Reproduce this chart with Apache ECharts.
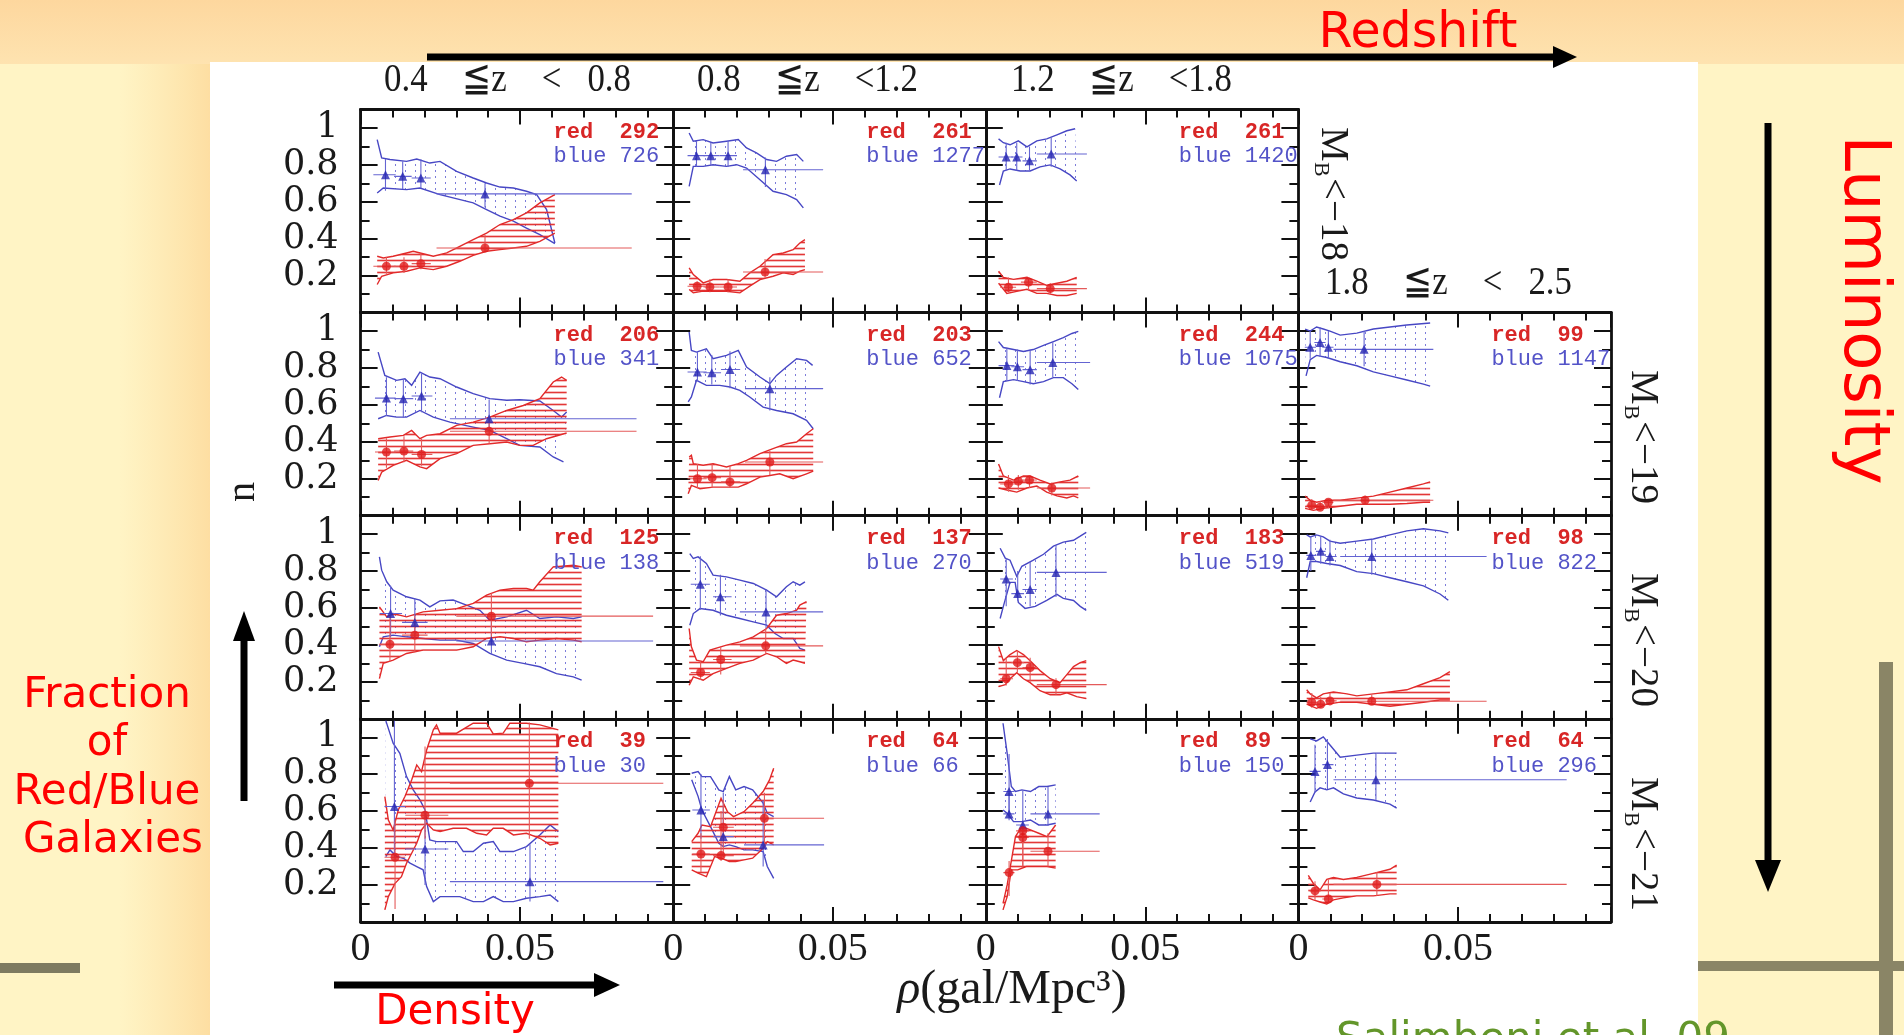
<!DOCTYPE html>
<html><head><meta charset="utf-8">
<script src="https://cdn.jsdelivr.net/npm/echarts@6/dist/echarts.min.js"></script>
<style>html,body{margin:0;padding:0;background:#fff4c5;overflow:hidden}#c{width:1904px;height:1035px}</style>
</head><body><div id="c"></div><script>
// ================= DATA =================
const columnTitles = ['0.4    \u2266z    <   0.8', '0.8    \u2266z    <1.2', '1.2    \u2266z    <1.8', '1.8    \u2266z    <   2.5'];
const rowMags = ['18', '19', '20', '21'];
const redCounts  = [[292, 261, 261, null], [206, 203, 244, 99], [125, 137, 183, 98], [39, 64, 89, 64]];
const blueCounts = [[726, 1277, 1420, null], [341, 652, 1075, 1147], [138, 270, 519, 822], [30, 66, 150, 296]];
const xTickLabels = ['0', '0.05'];
const yTickLabels = ['0.2', '0.4', '0.6', '0.8', '1'];
const xAxisTitle = '{i|\u03c1}(gal/Mpc\u00b3)';
const yAxisTitle = 'n';

// points: [x, y, xlo, xhi, ylo, yhi]
// ---- row 0 (M_B < -18) ----
const blueHi_00 = [[.0052,.937],[.0066,.838],[.0092,.829],[.0144,.819],[.0176,.832],[.0217,.810],[.0249,.819],[.0301,.765],[.0353,.729],[.0395,.702],[.0437,.680],[.0479,.675],[.0520,.657],[.0552,.639],[.0583,.558],[.0609,.377]];
const blueLo_00 = [[.0052,.648],[.0071,.675],[.0144,.666],[.0186,.675],[.0249,.639],[.0353,.594],[.0395,.558],[.0437,.522],[.0479,.495],[.0520,.458],[.0562,.422],[.0609,.374]];
const redHi_00 = [[.0052,.305],[.0071,.296],[.0102,.305],[.0144,.323],[.0165,.332],[.0196,.319],[.0228,.305],[.0270,.323],[.0311,.359],[.0353,.395],[.0395,.431],[.0437,.477],[.0479,.504],[.0520,.540],[.0562,.594],[.0609,.639]];
const redLo_00 = [[.0052,.152],[.0066,.197],[.0102,.215],[.0144,.224],[.0186,.242],[.0228,.233],[.0270,.251],[.0311,.278],[.0353,.310],[.0395,.332],[.0437,.341],[.0479,.350],[.0520,.359],[.0562,.386],[.0609,.431]];
const bluePts_00 = [[.0078,.747,.0040,.0110,.66,.83],[.0132,.738,.0105,.0160,.67,.82],[.0189,.729,.0160,.0220,.675,.83],[.0390,.643,.0238,.0850,.57,.70]];
const redPts_00 = [[.0081,.251,.0040,.0110,.21,.30],[.0136,.251,.0105,.0160,.215,.30],[.0189,.265,.0160,.0220,.235,.32],[.0390,.350,.0238,.0850,.33,.42]];

const blueHi_01 = [[.0050,.973],[.0063,.928],[.0094,.937],[.0125,.919],[.0167,.928],[.0204,.937],[.0230,.892],[.0261,.865],[.0293,.829],[.0324,.819],[.0355,.847],[.0387,.856],[.0408,.819]];
const blueLo_01 = [[.0050,.684],[.0063,.792],[.0094,.792],[.0125,.801],[.0167,.792],[.0199,.801],[.0230,.783],[.0272,.720],[.0313,.657],[.0355,.639],[.0387,.612],[.0408,.567]];
const redHi_01 = [[.0050,.242],[.0063,.206],[.0094,.161],[.0125,.179],[.0167,.179],[.0209,.170],[.0240,.215],[.0272,.251],[.0313,.314],[.0345,.323],[.0376,.341],[.0397,.377],[.0413,.395]];
const redLo_01 = [[.0050,.125],[.0063,.107],[.0094,.116],[.0125,.116],[.0167,.116],[.0209,.107],[.0240,.143],[.0272,.179],[.0313,.197],[.0345,.215],[.0376,.206],[.0397,.224],[.0413,.233]];
const bluePts_01 = [[.0073,.850,.0045,.0100,.79,.93],[.0118,.850,.0095,.0145,.80,.92],[.0172,.850,.0145,.0200,.79,.93],[.0289,.774,.0219,.0470,.68,.84]];
const redPts_01 = [[.0075,.143,.0045,.0100,.11,.17],[.0115,.139,.0095,.0145,.11,.18],[.0172,.139,.0145,.0200,.11,.18],[.0288,.220,.0219,.0470,.19,.29]];

const blueHi_02 = [[.0040,.941],[.0055,.920],[.0076,.909],[.0102,.930],[.0129,.898],[.0160,.930],[.0191,.941],[.0223,.963],[.0254,.985],[.0280,.996]];
const blueLo_02 = [[.0043,.691],[.0055,.767],[.0076,.778],[.0108,.767],[.0139,.767],[.0170,.789],[.0202,.800],[.0233,.778],[.0264,.746],[.0285,.713]];
const redHi_02 = [[.0040,.224],[.0055,.191],[.0087,.180],[.0129,.191],[.0160,.170],[.0191,.148],[.0223,.159],[.0254,.170],[.0285,.191]];
const redLo_02 = [[.0040,.159],[.0066,.104],[.0097,.115],[.0129,.126],[.0160,.104],[.0191,.104],[.0223,.093],[.0254,.093],[.0285,.104]];
const bluePts_02 = [[.0064,.843,.0040,.0085,.77,.92],[.0097,.843,.0080,.0115,.77,.92],[.0137,.822,.0115,.0160,.77,.90],[.0205,.859,.0160,.0317,.79,.95]];
const redPts_02 = [[.0071,.137,.0045,.0095,.11,.19],[.0134,.165,.0110,.0160,.12,.19],[.0202,.130,.0160,.0317,.10,.16]];

// ---- row 1 (M_B < -19) ----
const blueHi_10 = [[.0055,.886],[.0076,.760],[.0113,.733],[.0139,.742],[.0160,.706],[.0186,.778],[.0217,.751],[.0249,.742],[.0301,.697],[.0353,.661],[.0405,.634],[.0458,.625],[.0499,.628],[.0562,.621],[.0604,.570],[.0630,.534],[.0646,.561]];
const blueLo_10 = [[.0055,.525],[.0081,.543],[.0113,.534],[.0144,.534],[.0186,.570],[.0228,.534],[.0280,.507],[.0353,.480],[.0405,.462],[.0458,.417],[.0499,.381],[.0562,.372],[.0604,.318],[.0636,.291]];
const redHi_10 = [[.0055,.417],[.0092,.426],[.0134,.435],[.0160,.462],[.0186,.417],[.0207,.435],[.0249,.444],[.0301,.489],[.0353,.507],[.0405,.534],[.0458,.570],[.0510,.597],[.0562,.634],[.0604,.724],[.0630,.751],[.0646,.733]];
const redLo_10 = [[.0055,.191],[.0066,.236],[.0102,.273],[.0144,.300],[.0186,.264],[.0207,.255],[.0249,.309],[.0301,.336],[.0353,.381],[.0405,.390],[.0458,.399],[.0499,.381],[.0541,.381],[.0583,.417],[.0646,.448]];
const bluePts_10 = [[.0081,.637,.0045,.0110,.54,.75],[.0134,.634,.0105,.0165,.53,.74],[.0191,.648,.0160,.0225,.56,.77],[.0403,.525,.0280,.0865,.46,.63]];
const redPts_10 = [[.0081,.345,.0045,.0110,.26,.42],[.0136,.350,.0105,.0165,.29,.43],[.0191,.332,.0160,.0225,.27,.42],[.0403,.457,.0280,.0865,.39,.53]];

const blueHi_11 = [[.0050,.995],[.0057,.895],[.0073,.886],[.0104,.904],[.0125,.850],[.0167,.868],[.0204,.895],[.0230,.805],[.0272,.751],[.0303,.715],[.0324,.760],[.0355,.805],[.0387,.850],[.0418,.841],[.0437,.814]];
const blueLo_11 = [[.0047,.616],[.0057,.643],[.0073,.733],[.0104,.706],[.0146,.706],[.0178,.697],[.0209,.679],[.0240,.643],[.0282,.588],[.0324,.570],[.0376,.552],[.0418,.516],[.0439,.471]];
const redHi_11 = [[.0050,.318],[.0057,.327],[.0063,.282],[.0094,.273],[.0125,.282],[.0167,.264],[.0204,.282],[.0230,.300],[.0272,.336],[.0313,.363],[.0355,.390],[.0387,.399],[.0418,.444],[.0439,.471]];
const redLo_11 = [[.0047,.119],[.0057,.164],[.0084,.146],[.0125,.155],[.0167,.155],[.0204,.155],[.0230,.173],[.0272,.209],[.0303,.218],[.0334,.227],[.0376,.200],[.0418,.227],[.0439,.241]];
const bluePts_11 = [[.0076,.778,.0045,.0105,.73,.89],[.0121,.774,.0095,.0150,.71,.87],[.0178,.792,.0150,.0210,.69,.89],[.0303,.688,.0225,.0470,.57,.75]];
const redPts_11 = [[.0076,.200,.0045,.0105,.15,.28],[.0122,.206,.0095,.0150,.15,.28],[.0178,.183,.0150,.0210,.15,.27],[.0303,.291,.0225,.0470,.22,.35]];

const blueHi_12 = [[.0040,.943],[.0055,.911],[.0087,.900],[.0118,.889],[.0149,.900],[.0181,.922],[.0212,.943],[.0243,.965],[.0270,.987],[.0290,.998]];
const blueLo_12 = [[.0043,.639],[.0055,.726],[.0087,.737],[.0118,.726],[.0149,.715],[.0181,.726],[.0212,.748],[.0243,.748],[.0270,.715],[.0290,.683]];
const redHi_12 = [[.0040,.280],[.0055,.215],[.0087,.193],[.0118,.215],[.0139,.215],[.0170,.193],[.0202,.172],[.0233,.183],[.0264,.193],[.0290,.215]];
const redLo_12 = [[.0040,.150],[.0066,.139],[.0097,.128],[.0129,.150],[.0160,.161],[.0191,.128],[.0223,.107],[.0254,.096],[.0275,.107],[.0290,.096]];
const bluePts_12 = [[.0066,.813,.0040,.0090,.73,.91],[.0099,.807,.0080,.0120,.73,.90],[.0139,.791,.0115,.0160,.71,.90],[.0210,.830,.0160,.0327,.75,.94]];
const redPts_12 = [[.0071,.172,.0045,.0095,.13,.22],[.0102,.187,.0080,.0125,.14,.22],[.0137,.193,.0115,.0160,.15,.22],[.0207,.150,.0160,.0327,.11,.18]];

const blueHi_13 = [[.0021,1.011],[.0037,1.0],[.0057,1.022],[.0078,1.011],[.0099,1.0],[.0131,.978],[.0183,.989],[.0235,1.011],[.0287,1.022],[.0340,1.033],[.0413,1.044]];
const blueLo_13 = [[.0024,.757],[.0037,.845],[.0057,.868],[.0089,.857],[.0131,.834],[.0183,.812],[.0235,.779],[.0287,.757],[.0340,.735],[.0392,.713],[.0413,.702]];
const redHi_13 = [[.0021,.106],[.0037,.084],[.0057,.073],[.0089,.084],[.0131,.084],[.0183,.095],[.0235,.106],[.0287,.128],[.0340,.150],[.0392,.172],[.0413,.183]];
const redLo_13 = [[.0021,.040],[.0047,.029],[.0078,.040],[.0131,.051],[.0183,.062],[.0235,.062],[.0287,.062],[.0340,.066],[.0392,.073],[.0413,.073]];
const bluePts_13 = [[.0037,.912,.0020,.0055,.85,1.0],[.0068,.938,.0050,.0085,.86,1.02],[.0094,.912,.0075,.0110,.85,1.0],[.0206,.901,.0110,.0423,.81,1.0]];
const redPts_13 = [[.0042,.057,.0025,.0060,.03,.09],[.0068,.046,.0050,.0085,.03,.08],[.0094,.073,.0075,.0110,.04,.09],[.0209,.084,.0110,.0423,.06,.11]];

// ---- row 2 (M_B < -20) ----
const blueHi_20 = [[.0059,.877],[.0066,.805],[.0082,.742],[.0102,.697],[.0144,.661],[.0186,.643],[.0217,.606],[.0249,.639],[.0290,.643],[.0332,.616],[.0374,.588],[.0405,.534],[.0458,.552],[.0520,.588],[.0562,.543],[.0614,.552],[.0667,.543],[.0693,.552]];
const blueLo_20 = [[.0059,.390],[.0071,.444],[.0102,.453],[.0144,.444],[.0196,.435],[.0249,.426],[.0301,.426],[.0353,.408],[.0405,.354],[.0458,.318],[.0510,.300],[.0562,.282],[.0614,.245],[.0667,.227],[.0693,.209]];
const redHi_20 = [[.0059,.606],[.0082,.552],[.0102,.570],[.0144,.552],[.0196,.579],[.0249,.588],[.0301,.597],[.0353,.625],[.0395,.670],[.0437,.697],[.0479,.706],[.0520,.706],[.0541,.697],[.0562,.742],[.0604,.823],[.0667,.832],[.0693,.823]];
const redLo_20 = [[.0059,.218],[.0071,.300],[.0102,.318],[.0144,.354],[.0196,.372],[.0249,.372],[.0301,.372],[.0353,.390],[.0395,.435],[.0437,.444],[.0479,.435],[.0520,.417],[.0562,.426],[.0614,.435],[.0667,.426],[.0693,.417]];
const bluePts_20 = [[.0094,.570,.0060,.0130,.44,.72],[.0170,.522,.0130,.0210,.44,.65],[.0410,.421,.0300,.0917,.35,.55]];
const redPts_20 = [[.0092,.404,.0060,.0130,.31,.56],[.0170,.453,.0130,.0210,.36,.56],[.0410,.556,.0300,.0917,.44,.68]];

const blueHi_21 = [[.0052,.895],[.0063,.868],[.0078,.877],[.0104,.841],[.0125,.778],[.0167,.769],[.0209,.751],[.0251,.733],[.0293,.697],[.0324,.661],[.0355,.715],[.0376,.742],[.0397,.724],[.0413,.742]];
const blueLo_21 = [[.0052,.507],[.0063,.570],[.0084,.597],[.0125,.588],[.0167,.561],[.0209,.543],[.0251,.525],[.0293,.507],[.0303,.489],[.0319,.462],[.0345,.435],[.0376,.435],[.0397,.381],[.0413,.372]];
const redHi_21 = [[.0050,.489],[.0057,.390],[.0073,.318],[.0094,.309],[.0115,.372],[.0167,.399],[.0209,.417],[.0251,.444],[.0293,.489],[.0324,.561],[.0355,.570],[.0387,.588],[.0397,.616],[.0418,.634]];
const redLo_21 = [[.0050,.182],[.0063,.227],[.0094,.209],[.0125,.245],[.0167,.273],[.0209,.300],[.0251,.318],[.0293,.354],[.0324,.336],[.0355,.300],[.0376,.318],[.0397,.309],[.0413,.300]];
const bluePts_21 = [[.0085,.729,.0055,.0115,.59,.88],[.0148,.661,.0125,.0183,.56,.78],[.0291,.579,.0209,.0470,.49,.70]];
const redPts_21 = [[.0086,.251,.0055,.0115,.21,.31],[.0149,.321,.0125,.0183,.24,.39],[.0290,.395,.0209,.0470,.35,.49]];

const blueHi_22 = [[.0045,.924],[.0061,.870],[.0076,.859],[.0097,.772],[.0113,.826],[.0149,.859],[.0181,.891],[.0212,.935],[.0243,.957],[.0275,.967],[.0296,.989],[.0315,1.01]];
const blueLo_22 = [[.0045,.543],[.0055,.609],[.0076,.739],[.0092,.739],[.0102,.630],[.0123,.598],[.0155,.609],[.0191,.641],[.0223,.674],[.0243,.652],[.0275,.641],[.0296,.609],[.0315,.587]];
const redHi_22 = [[.0040,.391],[.0055,.315],[.0076,.348],[.0097,.370],[.0118,.348],[.0139,.315],[.0170,.261],[.0202,.217],[.0233,.196],[.0254,.239],[.0275,.283],[.0296,.304],[.0315,.315]];
const redLo_22 = [[.0040,.174],[.0061,.185],[.0076,.217],[.0097,.250],[.0118,.217],[.0139,.196],[.0170,.152],[.0202,.130],[.0233,.130],[.0254,.141],[.0285,.120],[.0315,.109]];
const bluePts_22 = [[.0064,.757,.0045,.0085,.61,.87],[.0100,.678,.0080,.0120,.64,.80],[.0139,.700,.0115,.0160,.61,.85],[.0220,.793,.0160,.0379,.66,.94]];
const redPts_22 = [[.0064,.217,.0045,.0085,.18,.33],[.0099,.304,.0080,.0120,.25,.37],[.0139,.278,.0115,.0160,.20,.33],[.0220,.185,.0160,.0379,.13,.22]];

const blueHi_23 = [[.0026,.996],[.0037,.985],[.0057,.996],[.0078,.985],[.0099,.962],[.0131,.951],[.0183,.962],[.0235,.974],[.0287,.996],[.0340,1.018],[.0392,1.029],[.0444,1.018],[.0470,1.007]];
const blueLo_23 = [[.0026,.764],[.0037,.852],[.0057,.852],[.0089,.841],[.0131,.830],[.0183,.797],[.0235,.786],[.0287,.764],[.0340,.742],[.0392,.720],[.0444,.676],[.0470,.642]];
const redHi_23 = [[.0026,.157],[.0037,.135],[.0057,.113],[.0078,.135],[.0110,.146],[.0152,.135],[.0183,.124],[.0235,.135],[.0287,.146],[.0340,.157],[.0392,.190],[.0444,.223],[.0475,.256]];
const redLo_23 = [[.0026,.079],[.0057,.057],[.0089,.079],[.0131,.090],[.0183,.090],[.0235,.079],[.0287,.068],[.0340,.079],[.0392,.090],[.0444,.102],[.0475,.102]];
const bluePts_23 = [[.0039,.885,.0025,.0055,.80,.99],[.0070,.907,.0055,.0085,.84,.99],[.0099,.879,.0085,.0120,.83,.97],[.0230,.879,.0131,.0590,.78,.97]];
const redPts_23 = [[.0042,.090,.0025,.0060,.06,.14],[.0070,.079,.0055,.0085,.06,.12],[.0099,.097,.0085,.0120,.08,.14],[.0230,.095,.0131,.0590,.08,.13]];

// ---- row 3 (M_B < -21) ----
const blueHi_30 = [[.0079,1.09],[.0102,.968],[.0123,.913],[.0144,.787],[.0165,.715],[.0186,.661],[.0202,.606],[.0217,.444],[.0238,.435],[.0301,.435],[.0322,.381],[.0353,.381],[.0385,.426],[.0416,.435],[.0437,.381],[.0479,.381],[.0520,.408],[.0562,.471],[.0594,.525],[.0620,.489]];
const blueLo_30 = [[.0079,.354],[.0092,.390],[.0113,.354],[.0134,.345],[.0155,.318],[.0176,.300],[.0196,.282],[.0207,.191],[.0228,.110],[.0249,.137],[.0311,.137],[.0353,.110],[.0385,.110],[.0416,.137],[.0447,.110],[.0479,.110],[.0520,.128],[.0562,.137],[.0594,.146],[.0620,.110]];
const redHi_30 = [[.0076,.679],[.0087,.552],[.0102,.498],[.0118,.606],[.0139,.679],[.0160,.769],[.0176,.850],[.0191,.814],[.0207,.931],[.0228,1.04],[.0238,1.067],[.0249,1.022],[.0301,1.022],[.0353,1.076],[.0395,1.076],[.0416,1.018],[.0447,1.022],[.0468,1.076],[.0520,1.076],[.0562,1.067],[.0620,1.040]];
const redLo_30 = [[.0076,.065],[.0087,.137],[.0108,.209],[.0128,.245],[.0144,.318],[.0160,.372],[.0176,.426],[.0191,.498],[.0207,.534],[.0228,.498],[.0249,.489],[.0290,.507],[.0332,.507],[.0364,.480],[.0395,.471],[.0416,.507],[.0447,.507],[.0479,.471],[.0520,.480],[.0562,.453],[.0594,.417],[.0620,.426]];
const bluePts_30 = [[.0106,.625,.0075,.0140,.35,1.09],[.0202,.395,.0140,.0275,.20,.60],[.0531,.218,.0280,.0949,.11,.42]];
const redPts_30 = [[.0108,.350,.0075,.0140,.07,.55],[.0202,.578,.0140,.0275,.45,.95],[.0529,.751,.0280,.0949,.45,1.08]];

const blueHi_31 = [[.0058,.805],[.0078,.814],[.0090,.787],[.0117,.787],[.0143,.715],[.0157,.706],[.0176,.787],[.0196,.715],[.0222,.733],[.0249,.715],[.0282,.643],[.0295,.588],[.0315,.570]];
const blueLo_31 = [[.0058,.770],[.0078,.680],[.0090,.606],[.0117,.516],[.0143,.426],[.0157,.408],[.0176,.417],[.0196,.408],[.0222,.390],[.0249,.390],[.0282,.381],[.0295,.300],[.0315,.236]];
const redHi_31 = [[.0058,.435],[.0078,.480],[.0090,.525],[.0117,.516],[.0150,.670],[.0170,.597],[.0189,.570],[.0222,.597],[.0249,.643],[.0282,.706],[.0302,.769],[.0315,.832]];
const redLo_31 = [[.0058,.282],[.0078,.264],[.0104,.245],[.0130,.354],[.0150,.345],[.0176,.327],[.0196,.327],[.0222,.336],[.0249,.345],[.0282,.399],[.0295,.435],[.0315,.417]];
const bluePts_31 = [[.0087,.606,.0060,.0115,.45,.80],[.0157,.462,.0125,.0190,.41,.70],[.0282,.417,.0222,.0473,.30,.66]];
const redPts_31 = [[.0087,.368,.0060,.0115,.27,.48],[.0150,.359,.0125,.0190,.33,.60],[.0157,.513,.0125,.0190,.35,.66],[.0286,.561,.0222,.0473,.40,.70]];

const blueHi_32 = [[.0054,1.076],[.0067,.913],[.0080,.733],[.0093,.706],[.0113,.715],[.0140,.706],[.0166,.733],[.0192,.733],[.0219,.742]];
const blueLo_32 = [[.0054,.606],[.0067,.588],[.0087,.543],[.0113,.543],[.0140,.552],[.0166,.525],[.0192,.525],[.0219,.534]];
const redHi_32 = [[.0054,.100],[.0067,.200],[.0080,.330],[.0093,.462],[.0113,.516],[.0140,.498],[.0166,.480],[.0192,.462],[.0219,.525]];
const redLo_32 = [[.0054,.065],[.0067,.137],[.0080,.282],[.0100,.282],[.0127,.300],[.0153,.300],[.0192,.300],[.0219,.291]];
const bluePts_32 = [[.0073,.706,.0055,.0090,.58,.91],[.0073,.585,.0055,.0090,.55,.70],[.0116,.525,.0095,.0135,.50,.71],[.0195,.585,.0140,.0357,.52,.73]];
const redPts_32 = [[.0073,.267,.0055,.0090,.14,.33],[.0116,.457,.0095,.0135,.30,.52],[.0116,.493,.0095,.0135,.30,.52],[.0195,.383,.0140,.0357,.30,.48]];

const blueHi_33 = [[.0037,.991],[.0057,.980],[.0078,1.002],[.0099,.958],[.0131,.892],[.0183,.903],[.0235,.914],[.0287,.914],[.0308,.914]];
const blueLo_33 = [[.0037,.649],[.0052,.704],[.0068,.726],[.0089,.715],[.0110,.726],[.0141,.693],[.0183,.671],[.0235,.660],[.0287,.638],[.0308,.616]];
const redHi_33 = [[.0031,.252],[.0047,.208],[.0068,.174],[.0089,.230],[.0110,.241],[.0141,.230],[.0183,.241],[.0235,.263],[.0287,.285],[.0308,.307]];
const redLo_33 = [[.0031,.130],[.0047,.119],[.0068,.108],[.0089,.097],[.0110,.119],[.0141,.130],[.0183,.141],[.0235,.141],[.0287,.152],[.0308,.152]];
const bluePts_33 = [[.0052,.815,.0035,.0070,.70,.96],[.0091,.852,.0075,.0110,.72,.99],[.0243,.770,.0110,.0841,.66,.91]];
const redPts_33 = [[.0052,.168,.0035,.0070,.12,.22],[.0094,.124,.0075,.0110,.10,.23],[.0246,.203,.0110,.0841,.14,.27]];

// ================= LAYOUT =================
const GL = 360.6, GT = 109.5, GW = 312.6, GH = 203.1, XMAX = 0.098, YMAX = 1.1;
const panels = [[0,0],[0,1],[0,2],[1,0],[1,1],[1,2],[1,3],[2,0],[2,1],[2,2],[2,3],[3,0],[3,1],[3,2],[3,3]];
const panelData = {
  '00': [blueHi_00, blueLo_00, redHi_00, redLo_00, bluePts_00, redPts_00],
  '01': [blueHi_01, blueLo_01, redHi_01, redLo_01, bluePts_01, redPts_01],
  '02': [blueHi_02, blueLo_02, redHi_02, redLo_02, bluePts_02, redPts_02],
  '10': [blueHi_10, blueLo_10, redHi_10, redLo_10, bluePts_10, redPts_10],
  '11': [blueHi_11, blueLo_11, redHi_11, redLo_11, bluePts_11, redPts_11],
  '12': [blueHi_12, blueLo_12, redHi_12, redLo_12, bluePts_12, redPts_12],
  '13': [blueHi_13, blueLo_13, redHi_13, redLo_13, bluePts_13, redPts_13],
  '20': [blueHi_20, blueLo_20, redHi_20, redLo_20, bluePts_20, redPts_20],
  '21': [blueHi_21, blueLo_21, redHi_21, redLo_21, bluePts_21, redPts_21],
  '22': [blueHi_22, blueLo_22, redHi_22, redLo_22, bluePts_22, redPts_22],
  '23': [blueHi_23, blueLo_23, redHi_23, redLo_23, bluePts_23, redPts_23],
  '30': [blueHi_30, blueLo_30, redHi_30, redLo_30, bluePts_30, redPts_30],
  '31': [blueHi_31, blueLo_31, redHi_31, redLo_31, bluePts_31, redPts_31],
  '32': [blueHi_32, blueLo_32, redHi_32, redLo_32, bluePts_32, redPts_32],
  '33': [blueHi_33, blueLo_33, redHi_33, redLo_33, bluePts_33, redPts_33]
};

// fill patterns
function makeHatch() {
  const c = document.createElement('canvas'); c.width = 8; c.height = 6;
  const g = c.getContext('2d');
  g.fillStyle = 'rgba(226,44,44,0.95)'; g.fillRect(0, 2, 8, 1);
  g.fillStyle = 'rgba(226,44,44,0.30)'; g.fillRect(0, 1, 8, 1); g.fillRect(0, 3, 8, 1);
  return c;
}
function makeDots() {
  const c = document.createElement('canvas'); c.width = 10; c.height = 6;
  const g = c.getContext('2d');
  g.fillStyle = 'rgba(80,80,205,0.75)'; g.fillRect(5, 2, 1, 2);
  return c;
}
const hatchFill = { image: makeHatch(), repeat: 'repeat' };
const dotFill = { image: makeDots(), repeat: 'repeat' };

const AX = '#111';
function fmtX(v) {
  if (Math.abs(v) < 1e-9) return xTickLabels[0];
  if (Math.abs(v - 0.05) < 1e-9) return xTickLabels[1];
  return '';
}
function fmtY(v) {
  const t = Math.round(v * 10);
  if (t >= 2 && t <= 10 && t % 2 === 0) return yTickLabels[t / 2 - 1];
  return '';
}
function axisX(gi, pos, interval, len, label, line) {
  return { gridIndex: gi, type: 'value', position: pos, min: 0, max: XMAX, interval: interval,
    axisLine: { show: line, onZero: false, lineStyle: { color: AX, width: 2.8 } },
    axisTick: { show: true, inside: true, length: len, lineStyle: { color: AX, width: 2 } },
    axisLabel: { show: label, margin: 8, formatter: fmtX, fontFamily: 'Liberation Serif', fontSize: 40, color: '#1a1a1a' },
    splitLine: { show: false }, minorTick: { show: false } };
}
function axisY(gi, pos, interval, len, label, line) {
  return { gridIndex: gi, type: 'value', position: pos, min: 0, max: YMAX, interval: interval,
    axisLine: { show: line, onZero: false, lineStyle: { color: AX, width: 2.8 } },
    axisTick: { show: true, inside: true, length: len, lineStyle: { color: AX, width: 2 } },
    axisLabel: { show: label, margin: 22, formatter: fmtY, fontFamily: 'DejaVu Serif', fontSize: 35, color: '#1a1a1a' },
    splitLine: { show: false }, minorTick: { show: false } };
}

const grid = [], xAxis = [], yAxis = [], series = [];
function errbars(pts, color, xi, yi) {
  return { type: 'custom', xAxisIndex: xi, yAxisIndex: yi, clip: true, silent: true, z: 4,
    encode: { x: 0, y: 1 }, data: pts,
    renderItem: function (params, api) {
      const y = api.value(1), x = api.value(0);
      const a = api.coord([api.value(2), y]), b = api.coord([api.value(3), y]);
      const c = api.coord([x, api.value(4)]), d = api.coord([x, api.value(5)]);
      return { type: 'group', children: [
        { type: 'line', shape: { x1: a[0], y1: a[1], x2: b[0], y2: b[1] }, style: { stroke: color, lineWidth: 1.1 } },
        { type: 'line', shape: { x1: c[0], y1: c[1], x2: d[0], y2: d[1] }, style: { stroke: color, lineWidth: 1.1 } }
      ] };
    } };
}

panels.forEach(function (rc, k) {
  const r = rc[0], c = rc[1];
  grid.push({ left: GL + c * GW, top: GT + r * GH, width: GW, height: GH, containLabel: false, outerBoundsMode: 'none' });
  const xi = xAxis.length, yi = yAxis.length;
  xAxis.push(axisX(k, 'bottom', 0.05, 15, r === 3, true));
  xAxis.push(axisX(k, 'bottom', 0.01, 8, false, false));
  xAxis.push(axisX(k, 'top', 0.05, 15, false, true));
  xAxis.push(axisX(k, 'top', 0.01, 8, false, false));
  yAxis.push(axisY(k, 'left', 0.2, 17, c === 0, true));
  yAxis.push(axisY(k, 'left', 0.1, 9, false, false));
  yAxis.push(axisY(k, 'right', 0.2, 17, false, true));
  yAxis.push(axisY(k, 'right', 0.1, 9, false, false));
  const d = panelData['' + r + c];
  const bands = [
    { hi: d[0], lo: d[1], fill: dotFill, stroke: '#4747c4' },
    { hi: d[2], lo: d[3], fill: hatchFill, stroke: '#e22a2a' }
  ];
  series.push({ type: 'custom', xAxisIndex: xi, yAxisIndex: yi, clip: true, silent: true, z: 2,
    data: bands.map(function (b, i) { return [i, 0]; }),
    renderItem: function (params, api) {
      const b = bands[api.value(0)];
      const hi = b.hi.map(function (p) { return api.coord(p); });
      const lo = b.lo.map(function (p) { return api.coord(p); });
      const poly = hi.concat(lo.slice().reverse());
      return { type: 'group', children: [
        { type: 'polygon', shape: { points: poly }, style: { fill: b.fill, stroke: null } },
        { type: 'polyline', shape: { points: hi }, style: { stroke: b.stroke, lineWidth: 1.4, fill: null } },
        { type: 'polyline', shape: { points: lo }, style: { stroke: b.stroke, lineWidth: 1.4, fill: null } }
      ] };
    } });
  series.push(errbars(d[4], '#6464d2', xi, yi));
  series.push(errbars(d[5], '#e45a5a', xi, yi));
  series.push({ type: 'scatter', xAxisIndex: xi, yAxisIndex: yi, silent: true, z: 5, animation: false,
    data: d[4].map(function (p) { return [p[0], p[1]]; }), symbol: 'triangle', symbolSize: 9, itemStyle: { color: '#2424b2' } });
  series.push({ type: 'scatter', xAxisIndex: xi, yAxisIndex: yi, silent: true, z: 5, animation: false,
    data: d[5].map(function (p) { return [p[0], p[1]]; }), symbol: 'circle', symbolSize: 9, itemStyle: { color: '#e01a1a' } });
});

// ================= GRAPHIC (slide decoration & texts) =================
const G = [];
G.push({ type: 'rect', z: -20, shape: { x: 0, y: 0, width: 1904, height: 1035 }, style: { fill: '#fff4c5' } });
G.push({ type: 'rect', z: -19, shape: { x: 0, y: 0, width: 1904, height: 64 },
  style: { fill: new echarts.graphic.LinearGradient(0, 0, 0, 1, [{ offset: 0, color: '#fdd79e' }, { offset: 1, color: '#fee3b0' }]) } });
G.push({ type: 'rect', z: -19, shape: { x: 120, y: 64, width: 90, height: 971 },
  style: { fill: new echarts.graphic.LinearGradient(0, 0, 1, 0, [{ offset: 0, color: 'rgba(253,226,168,0)' }, { offset: 1, color: 'rgba(253,222,162,1)' }]) } });
G.push({ type: 'rect', z: -18, shape: { x: 210, y: 62, width: 1488, height: 973 }, style: { fill: '#ffffff' } });
G.push({ type: 'rect', z: -17, shape: { x: 0, y: 963, width: 80, height: 10 }, style: { fill: '#7e7a60' } });
G.push({ type: 'rect', z: -17, shape: { x: 1698, y: 961, width: 206, height: 10 }, style: { fill: '#8a8566' } });
G.push({ type: 'rect', z: -17, shape: { x: 1879, y: 662, width: 14, height: 373 }, style: { fill: '#8a8566' } });

function arrowH(x1, x2, y, head, half) {
  G.push({ type: 'line', z: 6, shape: { x1: x1, y1: y, x2: x2 - head + 2, y2: y }, style: { stroke: '#000', lineWidth: 7 } });
  G.push({ type: 'polygon', z: 6, shape: { points: [[x2 - head, y - half], [x2, y], [x2 - head, y + half]] }, style: { fill: '#000' } });
}
function arrowV(x, y1, y2, head, half) {
  const dir = y2 > y1 ? 1 : -1;
  G.push({ type: 'line', z: 6, shape: { x1: x, y1: y1, x2: x, y2: y2 - dir * (head - 2) }, style: { stroke: '#000', lineWidth: 7 } });
  G.push({ type: 'polygon', z: 6, shape: { points: [[x - half, y2 - dir * head], [x, y2], [x + half, y2 - dir * head]] }, style: { fill: '#000' } });
}
arrowH(427, 1577, 57, 24, 11);
arrowV(1768, 123, 892, 32, 13);
arrowV(244, 801, 611, 30, 11);
arrowH(334, 620, 985, 26, 12);

const SANS = 'DejaVu Sans';
G.push({ type: 'text', z: 10, x: 1418, y: 34, style: { text: 'Redshift', fontFamily: SANS, fontSize: 49, fill: '#ff0000', align: 'center', verticalAlign: 'middle' } });
G.push({ type: 'text', z: 10, x: 1862, y: 310, rotation: -Math.PI / 2, style: { text: 'Luminosity', fontFamily: SANS, fontSize: 64, fill: '#ff0000', align: 'center', verticalAlign: 'middle' } });
[['Fraction', 107, 696], ['of', 107, 744], ['Red/Blue', 107, 793], ['Galaxies', 113, 841]].forEach(function (t) {
  G.push({ type: 'text', z: 10, x: t[1], y: t[2], style: { text: t[0], fontFamily: SANS, fontSize: 42, fill: '#ff0000', align: 'center', verticalAlign: 'middle' } });
});
G.push({ type: 'text', z: 10, x: 455, y: 1013, style: { text: 'Density', fontFamily: SANS, fontSize: 42, fill: '#ff0000', align: 'center', verticalAlign: 'middle' } });
G.push({ type: 'text', z: 10, x: 1336, y: 1020, style: { text: 'Salimbeni et al. 09', fontFamily: SANS, fontSize: 42, fill: '#63962a', align: 'left', verticalAlign: 'top' } });

const SERIF = 'Liberation Serif';
const TITLEFONT = '"Liberation Serif", "DejaVu Serif", serif';
const titlePos = [[384, 80], [697, 80], [1011, 80], [1325, 283]];
columnTitles.forEach(function (t, i) {
  G.push({ type: 'text', z: 10, x: titlePos[i][0], y: titlePos[i][1], scaleX: 0.85, style: { text: t, fontFamily: TITLEFONT, fontSize: 41, fill: '#1a1a1a', align: 'left', verticalAlign: 'middle' } });
});
const magPos = [[1332, 194], [1642, 437], [1642, 640], [1642, 844]];
rowMags.forEach(function (m, i) {
  G.push({ type: 'group', z: 10, x: magPos[i][0], y: magPos[i][1], rotation: -Math.PI / 2, children: [
    { type: 'text', z: 10, x: -67, y: 0, style: { text: 'M', fontFamily: SERIF, fontSize: 39, fill: '#1a1a1a', align: 'left', verticalAlign: 'middle' } },
    { type: 'text', z: 10, x: -32, y: 11, style: { text: 'B', fontFamily: SERIF, fontSize: 22, fill: '#1a1a1a', align: 'left', verticalAlign: 'middle' } },
    { type: 'text', z: 10, x: -16, y: 0, style: { text: '<\u2212' + m, fontFamily: SERIF, fontSize: 39, fill: '#1a1a1a', align: 'left', verticalAlign: 'middle' } }
  ] });
});
G.push({ type: 'text', z: 10, x: 1012, y: 990, style: { text: xAxisTitle, fontFamily: SERIF, fontSize: 48, fill: '#1a1a1a', align: 'center', verticalAlign: 'middle',
  rich: { i: { fontFamily: SERIF, fontSize: 48, fontStyle: 'italic', fill: '#1a1a1a' } } } });
G.push({ type: 'text', z: 10, x: 243, y: 492, rotation: Math.PI / 2, style: { text: yAxisTitle, fontFamily: SERIF, fontSize: 40, fill: '#1a1a1a', align: 'center', verticalAlign: 'middle' } });

panels.forEach(function (rc) {
  const r = rc[0], c = rc[1];
  const x0 = GL + c * GW + 193, y0 = GT + r * GH;
  G.push({ type: 'text', z: 10, x: x0, y: y0 + 23, style: { text: 'red  ' + redCounts[r][c], fontFamily: 'Liberation Mono', fontWeight: 'bold', fontSize: 22, fill: '#d82626', align: 'left', verticalAlign: 'middle' } });
  G.push({ type: 'text', z: 10, x: x0, y: y0 + 47, style: { text: 'blue ' + blueCounts[r][c], fontFamily: 'Liberation Mono', fontSize: 22, fill: '#5353c8', align: 'left', verticalAlign: 'middle' } });
});

const chart = echarts.init(document.getElementById('c'), null, { renderer: 'canvas', width: 1904, height: 1035 });
chart.setOption({
  backgroundColor: '#fff4c5',
  animation: false,
  grid: grid, xAxis: xAxis, yAxis: yAxis, series: series,
  graphic: { elements: G }
});
</script></body></html>
